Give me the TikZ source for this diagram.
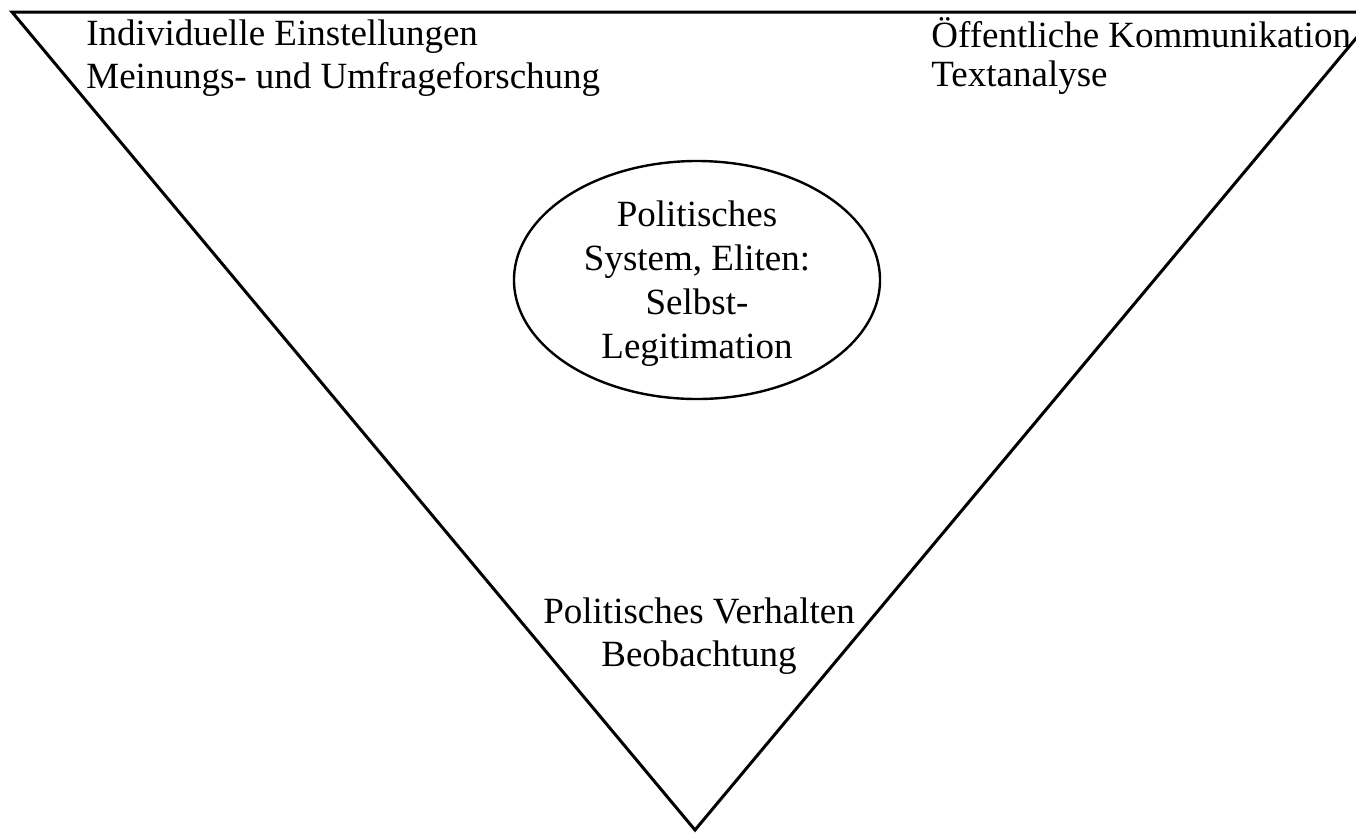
\documentclass[tikz,border=0pt]{standalone}
\usepackage{fontspec}
\setmainfont{Liberation Serif}
\usetikzlibrary{shapes.geometric}
\begin{document}
\begin{tikzpicture}[x=0.5pt,y=-0.5pt,
  txt/.style={inner sep=0pt, font=\fontsize{18.5}{22}\selectfont},
  edge/.style={line width=1.5pt, line join=miter},
  oval/.style={draw, ellipse, line width=1.2pt, inner sep=0pt, minimum width=183pt, minimum height=119pt}]
\useasboundingbox (0,0) rectangle (1356,832);
\begin{scope}
  \clip (0,0) rectangle (1356,832);
  \coordinate (tl) at (12,12);
  \coordinate (tr) at (1378,12);
  \coordinate (bt) at (695,830);
  \draw[edge] (tl) -- (tr) -- (bt) -- cycle;
\end{scope}
\node[oval] (core) at (697,280) {};
\node[txt, anchor=base west] (ie) at (86,45) {Individuelle Einstellungen};
\node[txt, anchor=base west] (mu) at (86,88) {Meinungs- und Umfrageforschung};
\node[txt, anchor=base west] (ok) at (931,47) {Öffentliche Kommunikation};
\node[txt, anchor=base west] (ta) at (931,86) {Textanalyse};
\node[txt, anchor=base] (c1) at (697,226) {Politisches};
\node[txt, anchor=base] (c2) at (697,270) {System, Eliten:};
\node[txt, anchor=base] (c3) at (697,314) {Selbst-};
\node[txt, anchor=base] (c4) at (697,358) {Legitimation};
\node[txt, anchor=base] (pv) at (699,623) {Politisches Verhalten};
\node[txt, anchor=base] (bb) at (699,666) {Beobachtung};
\end{tikzpicture}
\end{document}
